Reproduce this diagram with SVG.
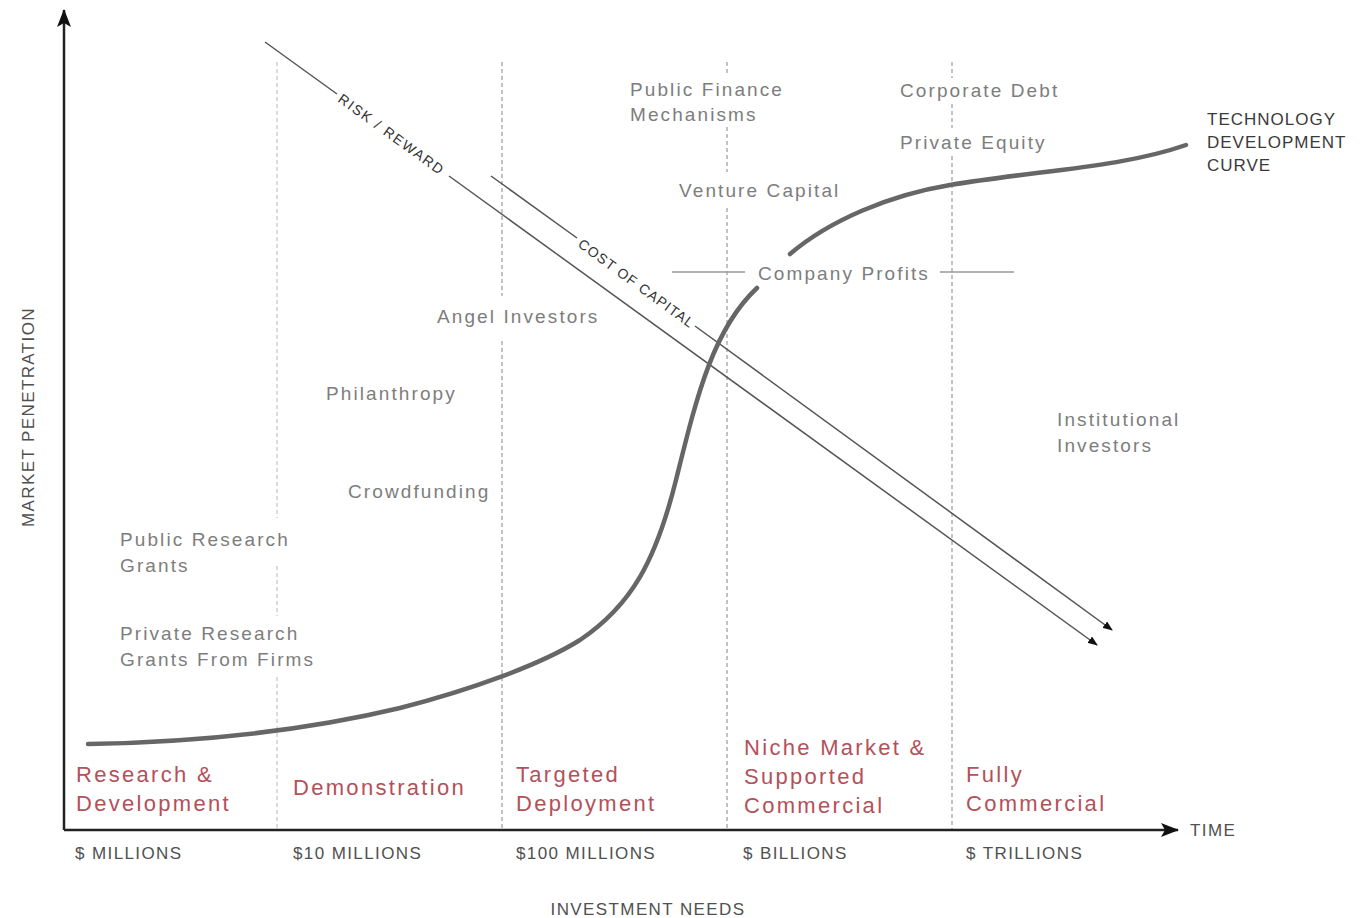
<svg xmlns="http://www.w3.org/2000/svg" width="1369" height="918" viewBox="0 0 1369 918">
<style>
.lbl{font-family:"Liberation Sans",Arial,sans-serif;font-size:19px;fill:#7d7d7d;letter-spacing:2.1px}
.stage{font-family:"Liberation Sans",Arial,sans-serif;font-size:22px;fill:#b4505a;letter-spacing:2.3px}
.axl{font-family:"Liberation Sans",Arial,sans-serif;font-size:17px;fill:#505050;letter-spacing:1.4px}
.cap{font-family:"Liberation Sans",Arial,sans-serif;font-size:17px;fill:#3a3a3a;letter-spacing:1px}
.diag{font-family:"Liberation Sans",Arial,sans-serif;font-size:14px;fill:#333;letter-spacing:1px}
.vline{stroke:#9a9a9a;stroke-width:1.2;stroke-dasharray:4 3;fill:none}
.vlight{stroke:#cfcfcf;stroke-width:1.5;stroke-dasharray:4 3;fill:none}
.dl{stroke:#555;stroke-width:1.5;fill:none}
.thin{stroke:#999;stroke-width:1.3;fill:none}
.curve{stroke:#666;stroke-width:4.5;fill:none;stroke-linecap:round}
.axis{stroke:#222;stroke-width:2.5;fill:none}
</style>
<defs>
<marker id="ah" markerWidth="10" markerHeight="8" refX="9" refY="4" orient="auto" markerUnits="userSpaceOnUse">
<path d="M0,0 L10,4 L0,8 Z" fill="#111"/>
</marker>
<marker id="axh" markerWidth="18" markerHeight="14" refX="17" refY="7" orient="auto" markerUnits="userSpaceOnUse">
<path d="M0,0 L18,7 L0,14 L4,7 Z" fill="#111"/>
</marker>
</defs>
<rect width="1369" height="918" fill="#fff"/>

<g id="gridlines">
<path class="vlight" d="M277,62 V518 M277,566 V616 M277,677 V830"/>
<path class="vline" d="M502,62 V296 M502,341 V830"/>
<path class="vline" d="M727,62 V74 M727,127 V172 M727,208 V830"/>
<path class="vline" d="M952,62 V78 M952,104 V128 M952,156 V830"/>
</g>

<g id="connectors">
<path class="axis" d="M64,830 V10" marker-end="url(#axh)"/>
<path class="axis" d="M64,830 H1178" marker-end="url(#axh)"/>
<path class="dl" d="M265,42 L337,94"/>
<path class="dl" d="M449,176 L1097,645" marker-end="url(#ah)"/>
<path class="dl" d="M491,176 L577,238"/>
<path class="dl" d="M695,326 L1112,630" marker-end="url(#ah)"/>
<path class="thin" d="M672,272 H745 M940,272 H1014"/>
<path class="curve" d="M88,744 C200,742 300,732 400,708 C470,690 540,665 580,640 C632,605 656,560 676,480 C696,400 712,330 757,288"/>
<path class="curve" d="M790,254 C830,220 890,195 950,185 C1040,170 1120,168 1186,145"/>
</g>

<g id="diagonal-labels">
<text class="diag" transform="translate(337,101) rotate(35.9)" textLength="127" lengthAdjust="spacing">RISK / REWARD</text>
<text class="diag" transform="translate(577,246) rotate(36.2)" textLength="140" lengthAdjust="spacing">COST OF CAPITAL</text>
</g>

<g id="funding-labels">
<g id="public-finance"><text class="lbl" x="630" y="96">Public Finance</text><text class="lbl" x="630" y="121">Mechanisms</text></g>
<g id="corporate-debt"><text class="lbl" x="900" y="97">Corporate Debt</text></g>
<g id="private-equity"><text class="lbl" x="900" y="149">Private Equity</text></g>
<g id="venture-capital"><text class="lbl" x="679" y="197">Venture Capital</text></g>
<g id="company-profits"><text class="lbl" x="758" y="280">Company Profits</text></g>
<g id="angel-investors"><text class="lbl" x="437" y="323">Angel Investors</text></g>
<g id="philanthropy"><text class="lbl" x="326" y="400">Philanthropy</text></g>
<g id="crowdfunding"><text class="lbl" x="348" y="498">Crowdfunding</text></g>
<g id="public-research"><text class="lbl" x="120" y="546">Public Research</text><text class="lbl" x="120" y="572">Grants</text></g>
<g id="private-research"><text class="lbl" x="120" y="640">Private Research</text><text class="lbl" x="120" y="666">Grants From Firms</text></g>
<g id="institutional"><text class="lbl" x="1057" y="426">Institutional</text><text class="lbl" x="1057" y="452">Investors</text></g>
</g>

<g id="tech-curve-label">
<text class="cap" x="1207" y="125">TECHNOLOGY</text>
<text class="cap" x="1207" y="148">DEVELOPMENT</text>
<text class="cap" x="1207" y="171">CURVE</text>
</g>

<g id="stages">
<g id="stage-rd"><text class="stage" x="76" y="782">Research &amp;</text><text class="stage" x="76" y="811">Development</text></g>
<g id="stage-demo"><text class="stage" x="293" y="795">Demonstration</text></g>
<g id="stage-targeted"><text class="stage" x="516" y="782">Targeted</text><text class="stage" x="516" y="811">Deployment</text></g>
<g id="stage-niche"><text class="stage" x="744" y="755">Niche Market &amp;</text><text class="stage" x="744" y="784">Supported</text><text class="stage" x="744" y="813">Commercial</text></g>
<g id="stage-full"><text class="stage" x="966" y="782">Fully</text><text class="stage" x="966" y="811">Commercial</text></g>
</g>

<g id="axis-labels">
<text class="axl" x="75" y="859">$ MILLIONS</text>
<text class="axl" x="293" y="859">$10 MILLIONS</text>
<text class="axl" x="516" y="859">$100 MILLIONS</text>
<text class="axl" x="743" y="859">$ BILLIONS</text>
<text class="axl" x="966" y="859">$ TRILLIONS</text>
<text class="axl" x="1190" y="836">TIME</text>
<text class="axl" x="648" y="915" text-anchor="middle">INVESTMENT NEEDS</text>
<text class="axl" transform="translate(34,417) rotate(-90)" text-anchor="middle">MARKET PENETRATION</text>
</g>
</svg>
